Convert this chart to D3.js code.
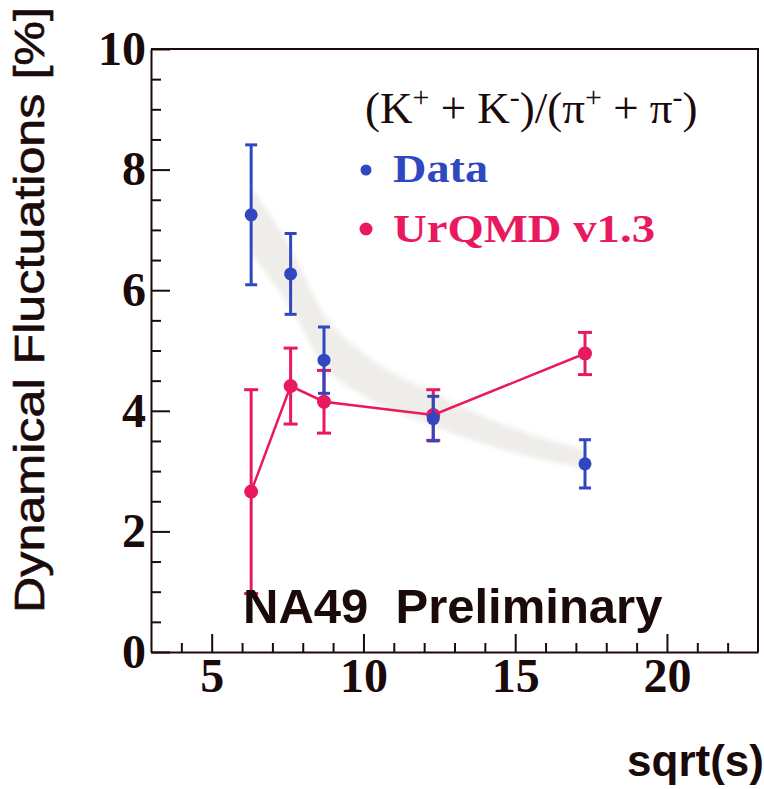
<html lang="en">

<head>
  <meta charset="UTF-8">
  <title>Dynamical Fluctuations</title>
  <script src="https://d3js.org/d3.v7.min.js"></script>
</head>

<style>
  body {
    margin: 0;
    background: #fff;
  }

  .axis text {
    font-family: 'Liberation Serif', 'Times New Roman', serif;
    font-weight: bold;
    font-size: 48px;
    fill: #1a0a0a;
  }

  .axis line,
  .axis path {
    stroke: #1a0a0a;
    stroke-width: 2;
  }
</style>

<body>
  <svg class="chart" width="764" height="789"></svg>
  <script>
    // values
    const sqrtS = [6.3, 7.6, 8.7, 12.3, 17.3];
    const dataVal = [7.25, 6.27, 4.84, 3.87, 3.12];
    const dataErr = [1.16, 0.67, 0.55, 0.37, 0.40];
    const urqmdVal = [2.66, 4.41, 4.15, 3.93, 4.95];
    const urqmdErr = [1.69, 0.63, 0.52, 0.42, 0.35];

    // grey band behind the data
    const bandX = [6.3, 7.6, 8.7, 10, 12.3, 15, 17.3];
    const bandLow = [6.6, 5.7, 4.75, 4.25, 3.75, 3.3, 3.05];
    const bandHigh = [7.7, 6.7, 5.6, 4.95, 4.3, 3.7, 3.35];

    const xMajor = [5, 10, 15, 20];
    const yMajor = [0, 2, 4, 6, 8, 10];

    const blue = '#3047c0';
    const pink = '#e8195e';
    const ink = '#1a0a0a';

    const svg = d3.select('svg.chart');
    const width = +svg.attr('width');
    const height = +svg.attr('height');
    const margins = { top: 49, right: 6, bottom: 137, left: 151 };
    const chartWidth = width - margins.left - margins.right;
    const chartHeight = height - margins.top - margins.bottom;

    const xScale = d3.scaleLinear().domain([3, 23]).range([0, chartWidth]);
    const yScale = d3.scaleLinear().domain([0, 10]).range([chartHeight, 0]);

    const chartArea = svg.append('g')
      .attr('transform', `translate(${margins.left},${margins.top})`);

    // band
    const bandData = bandX.map((x, i) => ({ x: x, lo: bandLow[i], hi: bandHigh[i] }));
    const defs = svg.append('defs');
    defs.append('filter').attr('id', 'soft')
      .append('feGaussianBlur').attr('stdDeviation', 2.5);
    chartArea.append('path')
      .datum(bandData)
      .attr('d', d3.area()
        .x(d => xScale(d.x))
        .y0(d => yScale(d.lo))
        .y1(d => yScale(d.hi))
        .curve(d3.curveMonotoneX))
      .attr('fill', '#efedea')
      .attr('filter', 'url(#soft)');

    // frame (top + right)
    chartArea.append('path')
      .attr('d', `M0,0H${chartWidth}V${chartHeight}`)
      .attr('fill', 'none')
      .attr('stroke', ink)
      .attr('stroke-width', 2);

    // axes
    const yMinor = d3.range(0, 10.01, 0.5).filter(v => v % 2 !== 0);
    const xMinor = d3.range(4, 23, 1).filter(v => v % 5 !== 0);

    chartArea.append('g').attr('class', 'axis')
      .call(d3.axisLeft(yScale).tickValues(yMinor).tickSize(-10).tickFormat(''))
      .select('.domain').remove();
    chartArea.append('g').attr('class', 'axis')
      .call(d3.axisLeft(yScale).tickValues(yMajor).tickSizeInner(-19).tickSizeOuter(0).tickPadding(5));

    chartArea.append('g').attr('class', 'axis')
      .attr('transform', `translate(0,${chartHeight})`)
      .call(d3.axisBottom(xScale).tickValues(xMinor).tickSize(-9).tickFormat(''))
      .select('.domain').remove();
    chartArea.append('g').attr('class', 'axis')
      .attr('transform', `translate(0,${chartHeight})`)
      .call(d3.axisBottom(xScale).tickValues(xMajor).tickSizeInner(-18).tickSizeOuter(0).tickPadding(6));

    // error bars + points
    function drawSeries(vals, errs, color, r, cap) {
      const g = chartArea.append('g');
      sqrtS.forEach((x, i) => {
        const cx = xScale(x);
        const top = yScale(vals[i] + errs[i]);
        const bot = yScale(vals[i] - errs[i]);
        g.append('line').attr('x1', cx).attr('x2', cx).attr('y1', top).attr('y2', bot)
          .attr('stroke', color).attr('stroke-width', 3);
        [top, bot].forEach(y => {
          g.append('line').attr('x1', cx - cap).attr('x2', cx + cap).attr('y1', y).attr('y2', y)
            .attr('stroke', color).attr('stroke-width', 3);
        });
        g.append('circle').attr('cx', cx).attr('cy', yScale(vals[i])).attr('r', r).attr('fill', color);
      });
    }

    const urqmdLine = d3.line()
      .x((d, i) => xScale(sqrtS[i]))
      .y(d => yScale(d));
    chartArea.append('path')
      .datum(urqmdVal)
      .attr('d', urqmdLine)
      .attr('fill', 'none')
      .attr('stroke', pink)
      .attr('stroke-width', 2.5);

    drawSeries(urqmdVal, urqmdErr, pink, 7, 7);
    drawSeries(dataVal, dataErr, blue, 6.5, 6);

    // legend
    const legend = svg.append('g');
    const formula = legend.append('text')
      .attr('x', 365).attr('y', 123)
      .style('font-family', "'Liberation Serif', 'Times New Roman', serif")
      .style('font-size', '45px')
      .attr('fill', ink);
    const parts = [['(K', 0], ['+', 1], [' + K', 0], ['-', 1], [')/(π', 0], ['+', 1], [' + π', 0], ['-', 1], [')', 0]];
    parts.forEach(p => {
      formula.append('tspan')
        .attr('baseline-shift', p[1] ? 'super' : null)
        .style('font-size', p[1] ? '30px' : null)
        .text(p[0]);
    });

    legend.append('circle').attr('cx', 366).attr('cy', 170).attr('r', 5.5).attr('fill', blue);
    legend.append('text')
      .attr('x', 393).attr('y', 182)
      .attr('textLength', 95).attr('lengthAdjust', 'spacingAndGlyphs')
      .style('font-family', "'Liberation Serif', 'Times New Roman', serif")
      .style('font-weight', 'bold')
      .style('font-size', '40px')
      .attr('fill', blue)
      .text('Data');

    legend.append('circle').attr('cx', 366).attr('cy', 229).attr('r', 6.5).attr('fill', pink);
    legend.append('text')
      .attr('x', 393).attr('y', 242)
      .attr('textLength', 262).attr('lengthAdjust', 'spacingAndGlyphs')
      .style('font-family', "'Liberation Serif', 'Times New Roman', serif")
      .style('font-weight', 'bold')
      .style('font-size', '40px')
      .attr('fill', pink)
      .text('UrQMD v1.3');

    // NA49 Preliminary
    svg.append('text')
      .attr('x', 243).attr('y', 623)
      .attr('xml:space', 'preserve')
      .style('white-space', 'pre')
      .style('font-family', "'Liberation Sans', Arial, sans-serif")
      .style('font-weight', 'bold')
      .style('font-size', '49px')
      .attr('fill', ink)
      .text('NA49  Preliminary');

    // axis titles
    svg.append('text')
      .attr('transform', 'translate(44,613) rotate(-90)')
      .attr('textLength', 606).attr('lengthAdjust', 'spacingAndGlyphs')
      .style('font-family', "'Liberation Sans', Arial, sans-serif")
      .style('font-size', '42px')
      .style('stroke', ink)
      .style('stroke-width', 0.6)
      .attr('fill', ink)
      .text('Dynamical Fluctuations [%]');

    svg.append('text')
      .attr('x', 764).attr('y', 776)
      .attr('text-anchor', 'end')
      .style('font-family', "'Liberation Sans', Arial, sans-serif")
      .style('font-weight', 'bold')
      .style('font-size', '44px')
      .attr('fill', ink)
      .text('sqrt(s)');
  </script>
</body>

</html>
